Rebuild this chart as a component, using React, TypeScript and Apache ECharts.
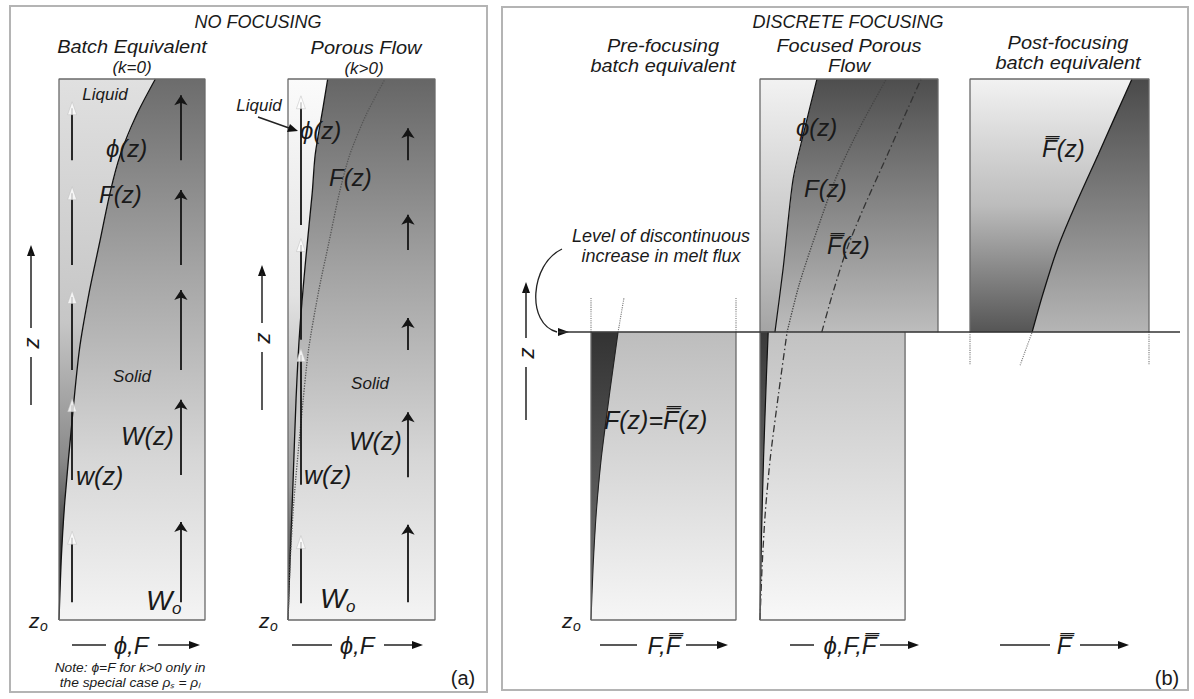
import React, { useEffect, useRef } from 'react';
import * as echarts from 'echarts';

// ---------- data (normalised: x = phi / F, y = height z) ----------
const Z_LEVEL = 0.532; // level of discontinuous increase in melt flux
const PRE_W = 0.815; // width of the lower (pre-focusing) columns

// panel (a): batch equivalent F(z)
const batchZ = [0, 0.11, 0.22, 0.37, 0.5, 0.61, 0.7, 0.79, 0.86, 0.933, 1];
const batchF = [0, 0.015, 0.04, 0.09, 0.14, 0.21, 0.28, 0.35, 0.42, 0.53, 0.66];
// panel (a): porous flow porosity phi(z)
const porousZ = [0, 0.11, 0.26, 0.41, 0.536, 0.665, 0.79, 0.86, 0.95, 1];
const porousPhi = [0, 0.014, 0.035, 0.055, 0.08, 0.12, 0.165, 0.185, 0.24, 0.27];

// panel (b)
const preZ = [0, 0.1, 0.2, 0.3, 0.42, 0.532];
const preF = [0, 0.012, 0.03, 0.058, 0.105, 0.152];
const preExtZ = [0.532, 0.595];
const preExtF = [0.152, 0.185];
const focPhiLowZ = [0, 0.15, 0.3, 0.45, 0.532];
const focPhiLow = [0, 0.008, 0.02, 0.036, 0.046];
const focPhiUpZ = [0.532, 0.65, 0.813, 0.9, 1];
const focPhiUp = [0.084, 0.13, 0.185, 0.245, 0.32];
const focFUpZ = [0.532, 0.62, 0.72, 0.82, 0.91, 1];
const focFUp = [0.152, 0.22, 0.32, 0.43, 0.56, 0.71];
const fbarZ = [0.532, 0.6, 0.684, 0.76, 0.86, 0.93, 1];
const fbarV = [0.347, 0.405, 0.486, 0.58, 0.716, 0.81, 0.905];
const postExtZ = [0.471, 0.532];
const postExtF = [0.28, 0.347];

// velocity arrows [zBottom, zTop]
const batchLiquidX = 0.09;
const batchLiquidArrows = [[0.85, 0.946], [0.656, 0.789], [0.462, 0.597], [0.259, 0.397], [0.033, 0.152]];
const batchSolidX = 0.835;
const batchSolidArrows = [[0.85, 0.97], [0.656, 0.795], [0.462, 0.61], [0.268, 0.407], [0.033, 0.181]];
const porousLiquidX = 0.088;
const porousLiquidArrows = [[0.73, 0.957], [0.518, 0.693], [0.25, 0.49], [0.031, 0.144]];
const porousSolidX = 0.816;
const porousSolidArrows = [[0.85, 0.909], [0.684, 0.749], [0.499, 0.558], [0.264, 0.384], [0.033, 0.176]];

// ---------- helpers ----------
const zip = (xs: number[], zs: number[]) => xs.map((x, i) => [x, zs[i]]);
const grad = (stops: [number, string][]) => ({
  type: 'linear', x: 0, y: 0, x2: 0, y2: 1,
  colorStops: stops.map(([offset, color]) => ({ offset, color })),
});

function region(g: number, pts: number[][], stops: [number, string][]) {
  return {
    type: 'custom', xAxisIndex: g, yAxisIndex: g, silent: true, z: 1, clip: false,
    data: [[0, 0]],
    renderItem: (_p: any, api: any) => ({
      type: 'polygon',
      shape: { points: pts.map((p) => api.coord(p)) },
      style: { fill: grad(stops) },
    }),
  };
}
function curve(g: number, pts: number[][], color: string, width: number, type: any, z = 4) {
  return {
    type: 'line', xAxisIndex: g, yAxisIndex: g, data: pts, showSymbol: false, symbol: 'none',
    smooth: 0.25, silent: true, z, clip: false,
    lineStyle: { color, width, type },
  };
}
function frame(g: number, pts: number[][]) {
  return {
    type: 'line', xAxisIndex: g, yAxisIndex: g, data: pts, showSymbol: false, symbol: 'none',
    silent: true, z: 6, clip: false, lineStyle: { color: '#6a6a6a', width: 1.3 },
  };
}
function solidArrows(g: number, x: number, arr: number[][]) {
  return {
    type: 'lines', coordinateSystem: 'cartesian2d', xAxisIndex: g, yAxisIndex: g, silent: true, z: 7,
    data: arr.map(([a, b]) => ({ coords: [[x, a], [x, b]] })),
    symbol: ['none', 'arrow'], symbolSize: 10,
    lineStyle: { color: '#151515', width: 1.8, opacity: 1 },
  };
}
function liquidArrows(g: number, x: number, arr: number[][]) {
  return [
    {
      type: 'lines', coordinateSystem: 'cartesian2d', xAxisIndex: g, yAxisIndex: g, silent: true, z: 7,
      data: arr.map(([a, b]) => ({ coords: [[x, a], [x, b]] })),
      symbol: ['none', 'none'],
      lineStyle: { color: '#151515', width: 1.8, opacity: 1 },
    },
    {
      type: 'scatter', xAxisIndex: g, yAxisIndex: g, silent: true, z: 8,
      data: arr.map(([, b]) => [x, b]), symbol: 'triangle', symbolSize: [9, 13],
      itemStyle: { color: '#ffffff', borderColor: '#bdbdbd', borderWidth: 0.6 },
    },
  ];
}

const FONT = '"Liberation Sans", Arial, sans-serif';
function txt(text: string, x: number, y: number, size: number, opts: any = {}) {
  return {
    type: 'text', x, y, rotation: opts.rotation || 0, scaleX: opts.sx || 1, z: 20,
    style: {
      text, fill: opts.fill || '#1a1a1a',
      font: `${opts.italic === false ? '' : 'italic '}${size}px ${FONT}`,
      align: opts.align || 'center', verticalAlign: 'middle',
      textAlign: opts.align || 'center', textVerticalAlign: 'middle',
    },
  };
}
function hline(x1: number, x2: number, y: number, w = 1.4, color = '#222') {
  return { type: 'line', z: 20, shape: { x1, y1: y, x2, y2: y }, style: { stroke: color, lineWidth: w } };
}
function vline(x: number, y1: number, y2: number, w = 1.4, color = '#222') {
  return { type: 'line', z: 20, shape: { x1: x, y1, x2: x, y2 }, style: { stroke: color, lineWidth: w } };
}
function headRight(x: number, y: number) {
  return { type: 'polygon', z: 20, shape: { points: [[x, y], [x - 11, y - 4], [x - 11, y + 4]] }, style: { fill: '#111' } };
}
function headUp(x: number, y: number) {
  return { type: 'polygon', z: 20, shape: { points: [[x, y], [x - 4, y + 11], [x + 4, y + 11]] }, style: { fill: '#111' } };
}
function zAxisMark(x: number, yTop: number, yMid: number, yBot: number) {
  return [
    headUp(x, yTop), vline(x, yTop + 8, yMid - 15, 1.5),
    txt('z', x, yMid, 22, { rotation: Math.PI / 2 }),
    vline(x, yMid + 14, yBot, 1.5),
  ];
}
function axisLabel(x1: number, x2: number, xt: number, x3: number, x4: number, y: number, label: string) {
  return [hline(x1, x2, y, 1.5), txt(label, xt, y, 24), hline(x3, x4 - 8, y, 1.5), headRight(x4, y)];
}
function sub(main: string, s: string, x: number, y: number, size: number, ssize: number, dx: number) {
  return [txt(main, x, y, size, { align: 'left' }), txt(s, x + dx, y + size * 0.3, ssize, { align: 'left' })];
}

const BF = zip(batchF, batchZ);
const PP = zip(porousPhi, porousZ);
const PF = zip(preF, preZ);
const FPL = zip(focPhiLow, focPhiLowZ);
const FPU = zip(focPhiUp, focPhiUpZ);
const FFU = zip(focFUp, focFUpZ);
const FB = zip(fbarV, fbarZ);
const L = Z_LEVEL;

const series: any[] = [
  // ---- (a) batch equivalent ----
  region(0, [...BF, [1, 1], [1, 0]], [[0, '#6c6c6c'], [0.35, '#a4a4a4'], [0.7, '#d6d6d6'], [1, '#f4f4f4']]),
  region(0, [...BF, [0, 1]], [[0, '#e0e0e0'], [0.45, '#c6c6c6'], [0.7, '#8a8a8a'], [0.85, '#484848'], [1, '#121212']]),
  curve(0, BF, '#111', 1.3, 'solid'),
  frame(0, [[0, 0], [1, 0], [1, 1], [0, 1], [0, 0]]),
  solidArrows(0, batchSolidX, batchSolidArrows),
  ...liquidArrows(0, batchLiquidX, batchLiquidArrows),
  // ---- (a) porous flow ----
  region(1, [...PP, [1, 1], [1, 0]], [[0, '#666666'], [0.35, '#a2a2a2'], [0.7, '#d6d6d6'], [1, '#f4f4f4']]),
  region(1, [...PP, [0, 1]], [[0, '#fbfbfb'], [0.4, '#e2e2e2'], [0.75, '#9a9a9a'], [1, '#222222']]),
  curve(1, PP, '#111', 1.3, 'solid'),
  curve(1, BF, '#555', 1.3, 'dotted'),
  frame(1, [[0, 0], [1, 0], [1, 1], [0, 1], [0, 0]]),
  solidArrows(1, porousSolidX, porousSolidArrows),
  ...liquidArrows(1, porousLiquidX, porousLiquidArrows),
  // ---- (b) pre-focusing ----
  region(2, [[0, 0], [PRE_W, 0], [PRE_W, L], [0, L]], [[0, '#bdbdbd'], [1, '#f6f6f6']]),
  region(2, [...PF, [0, L]], [[0, '#333333'], [1, '#777777']]),
  curve(2, PF, '#222', 1.1, 'solid'),
  curve(2, zip(preExtF, preExtZ), '#777', 1.1, 'dotted'),
  curve(2, [[0, L], [0, 0.595]], '#777', 1.1, 'dotted'),
  curve(2, [[PRE_W, L], [PRE_W, 0.595]], '#777', 1.1, 'dotted'),
  frame(2, [[0, L], [0, 0], [PRE_W, 0], [PRE_W, L]]),
  // ---- (b) focused porous flow ----
  region(3, [[0, 0], [PRE_W, 0], [PRE_W, L], [0, L]], [[0, '#c2c2c2'], [1, '#f8f8f8']]),
  region(3, [...FPL, [0, L]], [[0, '#3a3a3a'], [1, '#8a8a8a']]),
  region(3, [...FPU, [1, 1], [1, L]], [[0, '#4e4e4e'], [1, '#bdbdbd']]),
  region(3, [...FPU, [0, 1], [0, L]], [[0, '#f2f2f2'], [0.6, '#c8c8c8'], [1, '#a4a4a4']]),
  curve(3, FPL, '#111', 1.2, 'solid'),
  curve(3, FPU, '#111', 1.2, 'solid'),
  curve(3, FFU, '#444', 1.3, 'dotted'),
  curve(3, FB, '#333', 1.3, [7, 3, 1.5, 3]),
  curve(3, PF, '#333', 1.3, [7, 3, 1.5, 3]),
  frame(3, [[0, L], [0, 0], [PRE_W, 0], [PRE_W, L]]),
  frame(3, [[0, L], [0, 1], [1, 1], [1, L]]),
  // ---- (b) post-focusing ----
  region(4, [...FB, [1, 1], [1, L]], [[0, '#4a4a4a'], [1, '#b5b5b5']]),
  region(4, [...FB, [0, 1], [0, L]], [[0, '#f2f2f2'], [0.5, '#bcbcbc'], [1, '#555555']]),
  curve(4, FB, '#111', 1.3, 'solid'),
  curve(4, zip(postExtF, postExtZ), '#777', 1.1, 'dotted'),
  curve(4, [[0, L], [0, 0.471]], '#777', 1.1, 'dotted'),
  curve(4, [[1, L], [1, 0.471]], '#777', 1.1, 'dotted'),
  frame(4, [[0, L], [0, 1], [1, 1], [1, L]]),
];

const grids = [
  { left: 59, top: 79, width: 146, height: 541, xmax: 1 },
  { left: 288, top: 79, width: 147, height: 541, xmax: 1 },
  { left: 591, top: 79, width: 145, height: 541, xmax: PRE_W },
  { left: 760, top: 79, width: 178, height: 541, xmax: 1 },
  { left: 970, top: 79, width: 179, height: 541, xmax: 1 },
];

const graphics: any[] = [
  // panel frames
  { type: 'rect', z: 0, shape: { x: 10, y: 6, width: 477, height: 686 }, style: { fill: 'none', stroke: '#b4b4b4', lineWidth: 2 } },
  { type: 'rect', z: 0, shape: { x: 502, y: 7, width: 686, height: 683 }, style: { fill: 'none', stroke: '#b4b4b4', lineWidth: 2 } },
  // panel (a) texts
  txt('NO FOCUSING', 258, 22, 18),
  txt('Batch Equivalent', 132, 46, 19, { sx: 1.05 }),
  txt('(k=0)', 132, 67, 17),
  txt('Porous Flow', 366, 47, 19, { sx: 1.05 }),
  txt('(k>0)', 364, 68, 17),
  txt('Liquid', 105, 94, 17),
  txt('ϕ(z)', 106, 148, 24, { align: 'left' }),
  txt('F(z)', 99, 194, 24, { align: 'left' }),
  txt('Solid', 132, 376, 17),
  txt('W(z)', 121, 436, 25, { align: 'left' }),
  txt('w(z)', 76, 476, 25, { align: 'left' }),
  ...sub('W', 'o', 146, 600, 28, 17, 26),
  ...sub('z', 'o', 29, 620, 21, 14, 11),
  txt('Liquid', 259, 105, 17),
  { type: 'line', z: 20, shape: { x1: 258, y1: 117, x2: 289, y2: 128 }, style: { stroke: '#222', lineWidth: 1.5 } },
  { type: 'polygon', z: 20, shape: { points: [[298, 131], [287, 132], [290, 124]] }, style: { fill: '#111' } },
  txt('ϕ(z)', 300, 130, 24, { align: 'left' }),
  txt('F(z)', 329, 177, 24, { align: 'left' }),
  txt('Solid', 370, 383, 17),
  txt('W(z)', 349, 441, 25, { align: 'left' }),
  txt('w(z)', 304, 475, 25, { align: 'left' }),
  ...sub('W', 'o', 320, 598, 28, 17, 26),
  ...sub('z', 'o', 259, 620, 21, 14, 11),
  ...zAxisMark(31, 245, 343, 405),
  ...zAxisMark(262, 265, 338, 410),
  ...axisLabel(72, 106, 131, 158, 200, 645, 'ϕ,F'),
  ...axisLabel(292, 332, 357, 384, 423, 645, 'ϕ,F'),
  txt('Note: ϕ=F for k>0 only in', 130, 668, 12, { sx: 1.15 }),
  txt('the special case ρₛ = ρₗ', 130, 683, 12, { sx: 1.15 }),
  txt('(a)', 463, 678, 20, { italic: false }),
  // panel (b) texts
  txt('DISCRETE FOCUSING', 848, 22, 18),
  txt('Pre-focusing', 663, 45, 19, { sx: 1.05 }),
  txt('batch equivalent', 663, 65, 19, { sx: 1.05 }),
  txt('Focused Porous', 849, 45, 19, { sx: 1.05 }),
  txt('Flow', 849, 65, 19, { sx: 1.05 }),
  txt('Post-focusing', 1068, 42, 19, { sx: 1.05 }),
  txt('batch equivalent', 1068, 62, 19, { sx: 1.05 }),
  txt('ϕ(z)', 796, 127, 24, { align: 'left' }),
  txt('F(z)', 804, 188, 24, { align: 'left' }),
  txt('F̿(z)', 827, 245, 24, { align: 'left' }),
  txt('F̿(z)', 1042, 148, 24, { align: 'left' }),
  txt('F(z)=F̿(z)', 604, 420, 25, { align: 'left' }),
  txt('Level of discontinuous', 661, 236, 18),
  txt('increase in melt flux', 661, 256, 18),
  { type: 'bezierCurve', z: 20, shape: { x1: 562, y1: 249, cpx1: 530, cpy1: 264, cpx2: 526, cpy2: 324, x2: 557, y2: 332 }, style: { stroke: '#222', lineWidth: 1.3, fill: 'none' } },
  headRight(569, 332),
  hline(558, 1180, 332, 1.4, '#333'),
  ...zAxisMark(526, 282, 353, 420),
  ...sub('z', 'o', 562, 620, 21, 14, 11),
  ...axisLabel(600, 637, 664, 686, 728, 645, 'F,F̿'),
  ...axisLabel(790, 814, 850, 880, 919, 645, 'ϕ,F,F̿'),
  ...axisLabel(1000, 1050, 1064, 1080, 1129, 645, 'F̿'),
  txt('(b)', 1167, 678, 20, { italic: false }),
];

export default function App() {
  const ref = useRef<HTMLDivElement>(null);
  useEffect(() => {
    if (!ref.current) return;
    const chart = echarts.init(ref.current, undefined, { renderer: 'svg' });
    chart.setOption({
      animation: false,
      backgroundColor: '#ffffff',
      grid: grids.map((g) => ({ left: g.left, top: g.top, width: g.width, height: g.height, show: false })),
      xAxis: grids.map((g, i) => ({ type: 'value', gridIndex: i, min: 0, max: g.xmax, show: false })),
      yAxis: grids.map((_g, i) => ({ type: 'value', gridIndex: i, min: 0, max: 1, show: false })),
      series,
      graphic: graphics,
    });
    return () => chart.dispose();
  }, []);
  return <div ref={ref} style={{ position: 'fixed', left: 0, top: 0, width: 1194, height: 699 }} />;
}
